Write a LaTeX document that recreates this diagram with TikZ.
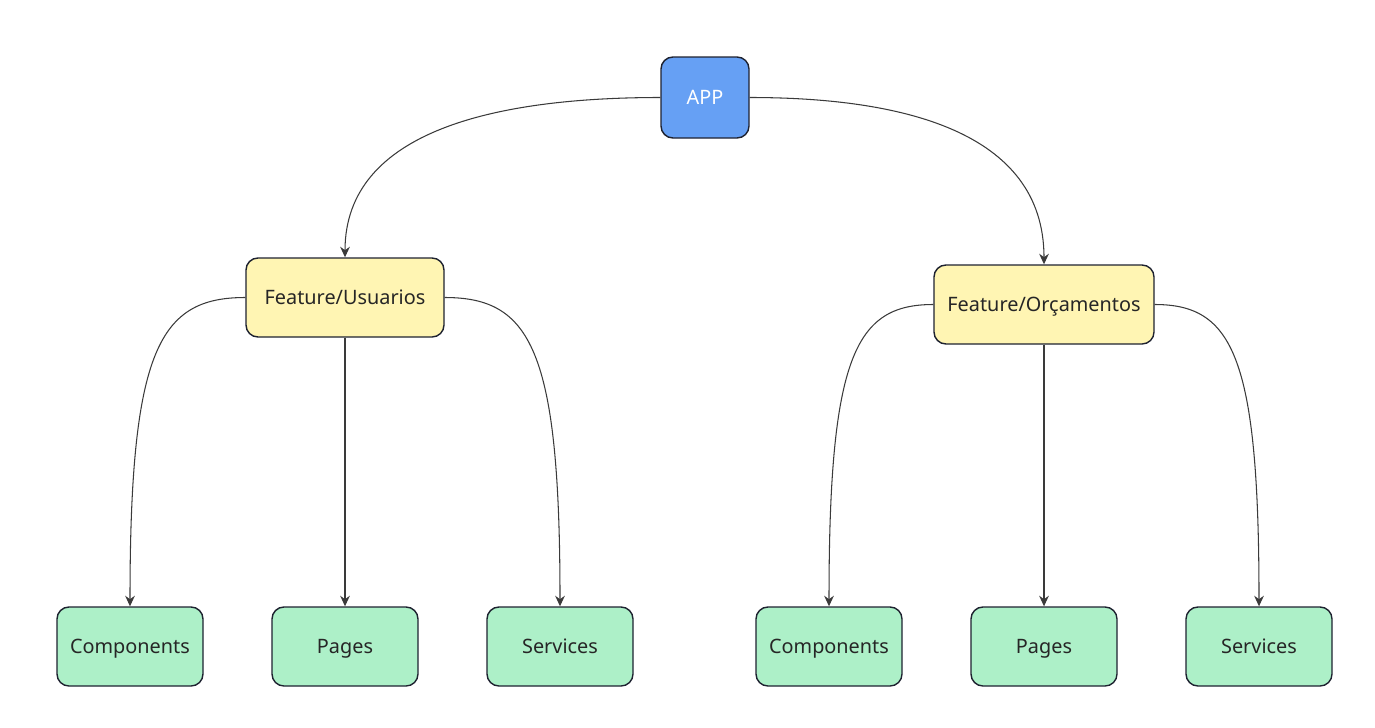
\documentclass[tikz,border=0pt]{standalone}
\usepackage{fontspec}
\setmainfont{Noto Sans}
\usetikzlibrary{arrows.meta}
\definecolor{appblue}{HTML}{66A0F4}
\definecolor{featyellow}{HTML}{FFF5B3}
\definecolor{leafgreen}{HTML}{ADF0C8}
\definecolor{boxline}{HTML}{1E2230}
\definecolor{wire}{HTML}{3A3A3A}

\begin{document}
\begin{tikzpicture}[x=0.02cm,y=-0.02cm,
        >={Stealth[length=6pt,width=5.5pt]},
        box/.style={rectangle,rounded corners=6.8pt,draw=boxline,line width=0.8pt,
          minimum height=79*0.02cm,inner sep=0pt,text height=8.1pt,text depth=0pt,
          font=\fontsize{11.3}{13}\selectfont},
        root/.style={box,fill=appblue,text=white,minimum width=88*0.02cm,minimum height=81*0.02cm},
        feature/.style={box,fill=featyellow,text=black!85},
        leaf/.style={box,fill=leafgreen,text=black!85,minimum width=146*0.02cm},
        link/.style={->,draw=wire,line width=0.6pt}]
        \useasboundingbox (0,0) rectangle (1375,727);
        % top
        \node[root]  (app) at (705,97.5) {APP};
        % features
        \node[feature,minimum width=198*0.02cm] (usu) at (345,297.5) {Feature/Usuarios};
        \node[feature,minimum width=220*0.02cm] (orc) at (1044,304.5) {Feature/Orçamentos};
        % leaves
        \node[leaf] (usucomp)  at (130,646.5)  {Components};
        \node[leaf] (usupages) at (345,646.5)  {Pages};
        \node[leaf] (ususerv)  at (560,646.5)  {Services};
        \node[leaf] (orccomp)  at (829,646.5)  {Components};
        \node[leaf] (orcpages) at (1044,646.5) {Pages};
        \node[leaf] (orcserv)  at (1259,646.5) {Services};
        % connectors
        \draw[link] (app.west) .. controls +(-161,0) and +(0,-128) .. (usu.north);
        \draw[link] (app.east) .. controls +(150,0) and +(0,-134) .. (orc.north);
        \draw[link] (usu.west) .. controls +(-86,0) and +(0,-257) .. (usucomp.north);
        \draw[link] (usu.south) -- (usupages.north);
        \draw[link] (usu.east) .. controls +(86,0) and +(0,-257) .. (ususerv.north);
        \draw[link] (orc.west) .. controls +(-78,0) and +(0,-250) .. (orccomp.north);
        \draw[link] (orc.south) -- (orcpages.north);
        \draw[link] (orc.east) .. controls +(78,0) and +(0,-250) .. (orcserv.north);
\end{tikzpicture}
\end{document}
